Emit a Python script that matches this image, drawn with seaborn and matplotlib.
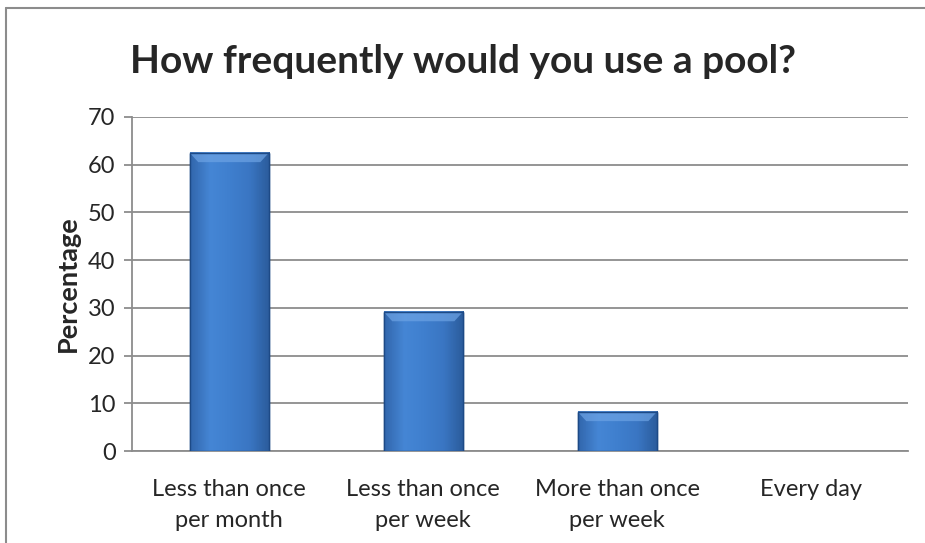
import numpy as np
import pandas as pd
import matplotlib
matplotlib.use("Agg")
import matplotlib.pyplot as plt
import matplotlib.lines as mlines
import seaborn as sns

categories = ["Less than once\nper month", "Less than once\nper week",
              "More than once\nper week", "Every day"]
percentages = [62.5, 29.2, 8.3, 0.0]
y_ticks = [0, 10, 20, 30, 40, 50, 60, 70]

sns.set_style("white")
plt.rcParams["font.family"] = ["Lato", "DejaVu Sans"]

df = pd.DataFrame({"answer": categories, "pct": percentages})

fig = plt.figure(figsize=(9.25, 5.43), dpi=100)
ax = fig.add_axes([0.143, 0.169, 0.839, 0.616])

sns.barplot(data=df, x="answer", y="pct", color="#3b77c4", width=0.41,
            saturation=1, edgecolor="#1d4a86", linewidth=1.0, ax=ax, zorder=3)

bar_cmap = matplotlib.colors.LinearSegmentedColormap.from_list(
    "bar", ["#3267ad", "#4586d5", "#3f7fce", "#3a76c3", "#2b5c9c"])

# a little bevel on each bar, like the office chart
for p in ax.patches:
    x0, y0 = p.get_x(), p.get_y()
    w, h = p.get_width(), p.get_height()
    if h <= 0:
        p.set_linewidth(0)
        continue
    ax.imshow(np.linspace(0, 1, 50).reshape(1, -1),
              extent=(x0, x0 + w, y0, y0 + h), aspect="auto",
              cmap=bar_cmap, zorder=3.1, clip_path=p)
    bev = 2.0
    ax.fill([x0, x0 + w, x0 + w - 0.045, x0 + 0.045],
            [y0 + h, y0 + h, y0 + h - bev, y0 + h - bev],
            color="#6da3e4", alpha=0.7, zorder=3.2, lw=0)
    ax.add_patch(plt.Rectangle((x0, y0), w, h, fill=False,
                               ec="#1d4a86", lw=1.0, zorder=3.3))

ax.set_xlim(-0.5, 3.5)
ax.set_ylim(0, 70)
ax.set_yticks(y_ticks)
ax.yaxis.grid(True, color="#8c8c8c", lw=1.3, zorder=0)
ax.tick_params(axis="y", length=6, width=1.3, color="#8c8c8c", labelsize=17,
               left=True, pad=6)
ax.tick_params(axis="x", length=0, labelsize=17, pad=20)
for lbl in ax.get_xticklabels():
    lbl.set_linespacing(1.6)
for s in ["top", "right"]:
    ax.spines[s].set_visible(False)
ax.spines["left"].set_color("#8c8c8c")
ax.spines["left"].set_linewidth(1.3)
ax.spines["bottom"].set_color("#8c8c8c")
ax.spines["bottom"].set_linewidth(1.3)

ax.set_xlabel("")
ax.set_ylabel("Percentage", fontsize=19.5, fontweight="bold", labelpad=6)
fig.text(0.5, 0.886, "How frequently would you use a pool?", ha="center",
         va="center", fontsize=28, fontweight="bold")

# chart frame, cropped at right and bottom
fig.add_artist(mlines.Line2D([0.006, 0.006], [0, 0.985], color="#8c8c8c", lw=1.5))
fig.add_artist(mlines.Line2D([0.006, 1.0], [0.985, 0.985], color="#8c8c8c", lw=1.5))

fig.savefig("out.png", dpi=100)
